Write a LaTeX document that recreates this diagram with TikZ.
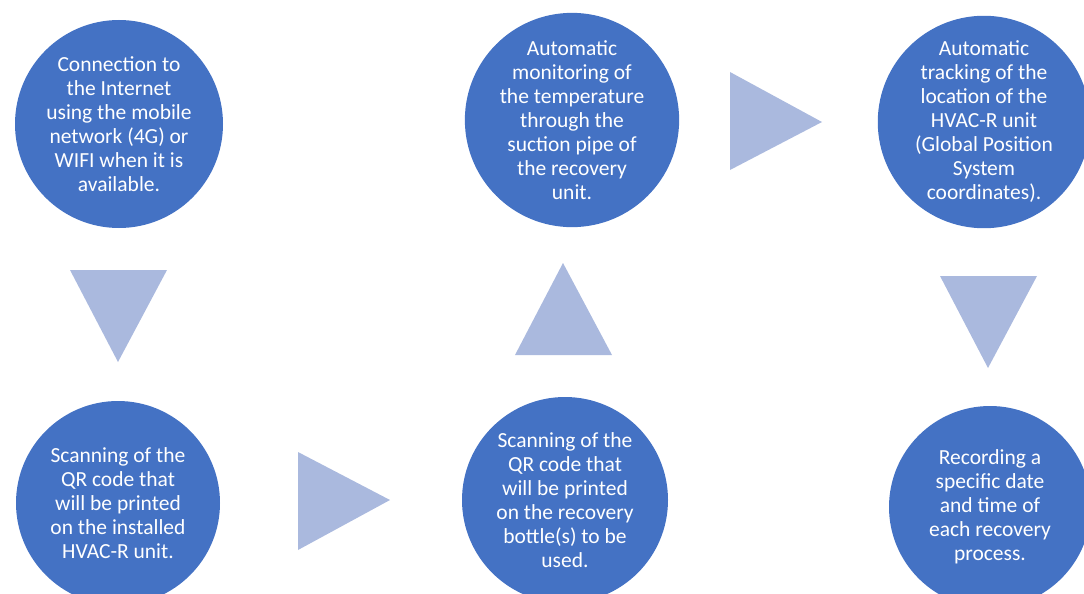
\documentclass[tikz,border=0pt]{standalone}
\usepackage{fontspec}
\setmainfont{Carlito}
\usepackage{xcolor}
\definecolor{stepblue}{RGB}{68,114,196}
\definecolor{tripale}{RGB}{170,185,222}
\tikzset{
  stage/.style ={circle, fill=stepblue, draw=none, text=white, align=center, inner sep=0pt,
                 font=\fontsize{21.5}{24}\selectfont},
  pointer/.style={fill=tripale, draw=none},
}
\begin{document}
\begin{tikzpicture}[x=1pt, y=-1pt]
  \useasboundingbox (0,0) rectangle (1084,594);
  \clip (0,0) rectangle (1084,594);
  % top row
  \node[stage, minimum size=208pt] (net)   at (119,124) {Connection to\\the Internet\\using the mobile\\network (4G) or\\WIFI when it is\\available.};
  \node[stage, minimum size=202pt] (temp)  at (572,120) {Automatic\\monitoring of\\the temperature\\through the\\suction pipe of\\the recovery\\unit.};
  \node[stage, minimum size=210pt] (gps)   at (984,122) {Automatic\\tracking of the\\location of the\\HVAC-R unit\\(Global Position\\System\\coordinates).};
  % bottom row
  \node[stage, minimum size=204pt] (unit)   at (118,503) {Scanning of the\\QR code that\\will be printed\\on the installed\\HVAC-R unit.};
  \node[stage, minimum size=206pt] (bottle) at (565,500) {Scanning of the\\QR code that\\will be printed\\on the recovery\\bottle(s) to be\\used.};
  \node[stage, minimum size=202pt] (stamp)  at (990,507) {Recording a\\specific date\\and time of\\each recovery\\process.};
  % pointers between the stages
  \fill[pointer] (70,270) -- (167,270) -- (118,362) -- cycle;
  \fill[pointer] (298,452) -- (390,500) -- (298,550) -- cycle;
  \fill[pointer] (515,355) -- (612,355) -- (563,263) -- cycle;
  \fill[pointer] (730,72) -- (822,122) -- (730,170) -- cycle;
  \fill[pointer] (940,276) -- (1037,276) -- (988,368) -- cycle;
\end{tikzpicture}
\end{document}
